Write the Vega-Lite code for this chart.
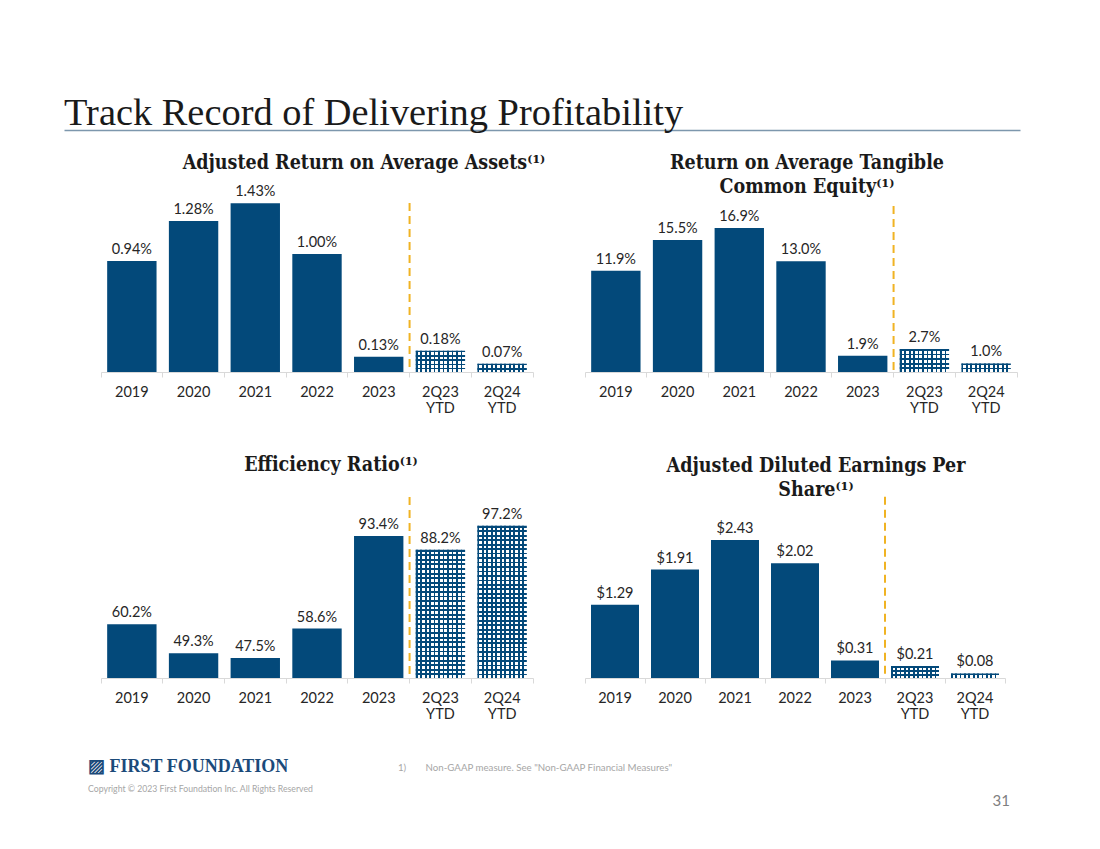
{
  "$schema": "https://vega.github.io/schema/vega-lite/v6.json",
  "autosize": {"type": "none"},
  "padding": {"left": 101, "top": 129, "right": 999, "bottom": 720},
  "background": "white",
  "bounds": "flush",
  "columns": 2,
  "spacing": {"row": 20, "column": 52},
  "config": {
    "view": {"stroke": null},
    "title": {"font": "DejaVu Serif Condensed, DejaVu Serif", "fontSize": 19.5, "fontWeight": "bold", "color": "#1a1a1a", "frame": "group", "offset": 0, "baseline": "alphabetic", "lineHeight": 24, "anchor": "middle"},
    "axis": {"labelFont": "Lato", "labelFontSize": 14.5, "labelColor": "#262626", "labelPadding": 8, "labelLineHeight": 16, "tickColor": "#d9d9d9", "domainColor": "#d9d9d9", "tickSize": 5, "grid": false}
  },
  "concat": [
    {
      "width": 432, "height": 1,
      "title": {"text": "Track Record of Delivering Profitability", "anchor": "start", "dx": -37, "dy": 11, "font": "Liberation Serif", "fontSize": 38.4, "fontWeight": "normal", "color": "#1a1a1a"},
      "data": {"values": [{"v": 0}, {"v": 1}]},
      "mark": {"type": "point", "opacity": 0},
      "encoding": {"x": {"field": "v", "type": "quantitative", "scale": {"domain": [0, 1], "range": [-37, 919]}, "axis": {"title": null, "labels": false, "ticks": false, "domainColor": "#7d97ad", "domainWidth": 1.5}}}
    },
    {
      "width": 432, "height": 1,
      "title": {"text": "31", "anchor": "end", "dx": -7, "dy": 686, "font": "Lato", "fontSize": 15, "fontWeight": "normal", "color": "#7f7f7f"},
      "data": {"values": [{}]},
      "mark": {"type": "point", "opacity": 0}
    },
    {
      "width": 432, "height": 222,
      "title": {"text": "Adjusted Return on Average Assets⁽¹⁾", "dx": 47, "dy": 27},
      "data": {"values": [
        {"cat": "2019", "v": 0.94, "label": "0.94%"},
        {"cat": "2020", "v": 1.28, "label": "1.28%"},
        {"cat": "2021", "v": 1.43, "label": "1.43%"},
        {"cat": "2022", "v": 1.00, "label": "1.00%"},
        {"cat": "2023", "v": 0.13, "label": "0.13%"},
        {"cat": "2Q23 YTD", "v": 0.18, "label": "0.18%"},
        {"cat": "2Q24 YTD", "v": 0.07, "label": "0.07%"}
      ]},
      "encoding": {"x": {"field": "cat", "type": "nominal", "sort": null, "scale": {"paddingInner": 0, "paddingOuter": 0}, "axis": {"title": null, "labelAngle": 0, "labelExpr": "split(datum.label, ' ')", "bandPosition": 1, "tickExtra": true}}},
      "layer": [
        {"transform": [{"filter": "indexof(datum.cat,'YTD')<0"}], "mark": {"type": "bar", "width": {"band": 0.8}, "fill": "#03497a"}, "encoding": {"y": {"field": "v", "type": "quantitative", "scale": {"domain": [0, 1.881], "nice": false}, "axis": null}, "y2": {"datum": 0}}},
        {"transform": [{"filter": "indexof(datum.cat,'YTD')>=0"}], "mark": {"type": "bar", "width": {"band": 0.8}, "fill": {"gradient": "linear", "x1": 0, "y1": 0, "x2": 1, "y2": 0, "stops": [{"offset": 0, "color": "#03497a"}, {"offset": 0.0364, "color": "#03497a"}, {"offset": 0.0364, "color": "#ffffff"}, {"offset": 0.0909, "color": "#ffffff"}, {"offset": 0.0909, "color": "#03497a"}, {"offset": 0.1273, "color": "#03497a"}, {"offset": 0.1273, "color": "#ffffff"}, {"offset": 0.1818, "color": "#ffffff"}, {"offset": 0.1818, "color": "#03497a"}, {"offset": 0.2182, "color": "#03497a"}, {"offset": 0.2182, "color": "#ffffff"}, {"offset": 0.2727, "color": "#ffffff"}, {"offset": 0.2727, "color": "#03497a"}, {"offset": 0.3091, "color": "#03497a"}, {"offset": 0.3091, "color": "#ffffff"}, {"offset": 0.3636, "color": "#ffffff"}, {"offset": 0.3636, "color": "#03497a"}, {"offset": 0.4, "color": "#03497a"}, {"offset": 0.4, "color": "#ffffff"}, {"offset": 0.4545, "color": "#ffffff"}, {"offset": 0.4545, "color": "#03497a"}, {"offset": 0.4909, "color": "#03497a"}, {"offset": 0.4909, "color": "#ffffff"}, {"offset": 0.5455, "color": "#ffffff"}, {"offset": 0.5455, "color": "#03497a"}, {"offset": 0.5818, "color": "#03497a"}, {"offset": 0.5818, "color": "#ffffff"}, {"offset": 0.6364, "color": "#ffffff"}, {"offset": 0.6364, "color": "#03497a"}, {"offset": 0.6727, "color": "#03497a"}, {"offset": 0.6727, "color": "#ffffff"}, {"offset": 0.7273, "color": "#ffffff"}, {"offset": 0.7273, "color": "#03497a"}, {"offset": 0.7636, "color": "#03497a"}, {"offset": 0.7636, "color": "#ffffff"}, {"offset": 0.8182, "color": "#ffffff"}, {"offset": 0.8182, "color": "#03497a"}, {"offset": 0.8545, "color": "#03497a"}, {"offset": 0.8545, "color": "#ffffff"}, {"offset": 0.9091, "color": "#ffffff"}, {"offset": 0.9091, "color": "#03497a"}, {"offset": 0.9455, "color": "#03497a"}, {"offset": 0.9455, "color": "#ffffff"}, {"offset": 1, "color": "#ffffff"}]}}, "encoding": {"y": {"field": "v", "type": "quantitative", "scale": {"domain": [0, 1.881], "nice": false}, "axis": null}, "y2": {"datum": 0}}},
        {"transform": [{"filter": "indexof(datum.cat,'YTD')>=0"}], "mark": {"type": "bar", "width": {"band": 0.8}}, "encoding": {"y": {"field": "v", "type": "quantitative", "scale": {"domain": [0, 1.881], "nice": false}, "axis": null}, "y2": {"datum": 0},
          "fill": {"condition": {"test": "datum.cat==='2Q23 YTD'", "value": {"gradient": "linear", "x1": 0, "y1": 0, "x2": 0, "y2": 1, "stops": [{"offset": 0, "color": "#03497a"}, {"offset": 0.08, "color": "#03497a"}, {"offset": 0.08, "color": "rgba(3,73,122,0)"}, {"offset": 0.2, "color": "rgba(3,73,122,0)"}, {"offset": 0.2, "color": "#03497a"}, {"offset": 0.28, "color": "#03497a"}, {"offset": 0.28, "color": "rgba(3,73,122,0)"}, {"offset": 0.4, "color": "rgba(3,73,122,0)"}, {"offset": 0.4, "color": "#03497a"}, {"offset": 0.48, "color": "#03497a"}, {"offset": 0.48, "color": "rgba(3,73,122,0)"}, {"offset": 0.6, "color": "rgba(3,73,122,0)"}, {"offset": 0.6, "color": "#03497a"}, {"offset": 0.68, "color": "#03497a"}, {"offset": 0.68, "color": "rgba(3,73,122,0)"}, {"offset": 0.8, "color": "rgba(3,73,122,0)"}, {"offset": 0.8, "color": "#03497a"}, {"offset": 0.88, "color": "#03497a"}, {"offset": 0.88, "color": "rgba(3,73,122,0)"}, {"offset": 1, "color": "rgba(3,73,122,0)"}]}},
            "value": {"gradient": "linear", "x1": 0, "y1": 0, "x2": 0, "y2": 1, "stops": [{"offset": 0, "color": "#03497a"}, {"offset": 0.2, "color": "#03497a"}, {"offset": 0.2, "color": "rgba(3,73,122,0)"}, {"offset": 0.5, "color": "rgba(3,73,122,0)"}, {"offset": 0.5, "color": "#03497a"}, {"offset": 0.7, "color": "#03497a"}, {"offset": 0.7, "color": "rgba(3,73,122,0)"}, {"offset": 1, "color": "rgba(3,73,122,0)"}]}}}},
        {"mark": {"type": "text", "baseline": "alphabetic", "dy": -7, "font": "Lato", "fontSize": 14.5, "color": "#262626"}, "encoding": {"y": {"field": "v", "type": "quantitative", "scale": {"domain": [0, 1.881], "nice": false}, "axis": null}, "text": {"field": "label"}}},
        {"transform": [{"filter": "datum.cat==='2Q23 YTD'"}], "mark": {"type": "rule", "color": "#f0b323", "strokeDash": [8, 5], "strokeWidth": 2}, "encoding": {"x": {"field": "cat", "type": "nominal", "sort": null, "bandPosition": 0}, "y": {"datum": 1.432, "type": "quantitative", "scale": {"domain": [0, 1.881], "nice": false}}, "y2": {"datum": 0}}}
      ]
    },
    {
      "width": 432, "height": 222,
      "title": {"text": ["Return on Average Tangible", "Common Equity⁽¹⁾"], "dx": 6, "dy": 51},
      "data": {"values": [
        {"cat": "2019", "v": 11.9, "label": "11.9%"},
        {"cat": "2020", "v": 15.5, "label": "15.5%"},
        {"cat": "2021", "v": 16.9, "label": "16.9%"},
        {"cat": "2022", "v": 13.0, "label": "13.0%"},
        {"cat": "2023", "v": 1.9, "label": "1.9%"},
        {"cat": "2Q23 YTD", "v": 2.7, "label": "2.7%"},
        {"cat": "2Q24 YTD", "v": 1.0, "label": "1.0%"}
      ]},
      "encoding": {"x": {"field": "cat", "type": "nominal", "sort": null, "scale": {"paddingInner": 0, "paddingOuter": 0}, "axis": {"title": null, "labelAngle": 0, "labelExpr": "split(datum.label, ' ')", "bandPosition": 1, "tickExtra": true}}},
      "layer": [
        {"transform": [{"filter": "indexof(datum.cat,'YTD')<0"}], "mark": {"type": "bar", "width": {"band": 0.8}, "fill": "#03497a"}, "encoding": {"y": {"field": "v", "type": "quantitative", "scale": {"domain": [0, 26.06], "nice": false}, "axis": null}, "y2": {"datum": 0}}},
        {"transform": [{"filter": "indexof(datum.cat,'YTD')>=0"}], "mark": {"type": "bar", "width": {"band": 0.8}, "fill": {"gradient": "linear", "x1": 0, "y1": 0, "x2": 1, "y2": 0, "stops": [{"offset": 0, "color": "#03497a"}, {"offset": 0.0364, "color": "#03497a"}, {"offset": 0.0364, "color": "#ffffff"}, {"offset": 0.0909, "color": "#ffffff"}, {"offset": 0.0909, "color": "#03497a"}, {"offset": 0.1273, "color": "#03497a"}, {"offset": 0.1273, "color": "#ffffff"}, {"offset": 0.1818, "color": "#ffffff"}, {"offset": 0.1818, "color": "#03497a"}, {"offset": 0.2182, "color": "#03497a"}, {"offset": 0.2182, "color": "#ffffff"}, {"offset": 0.2727, "color": "#ffffff"}, {"offset": 0.2727, "color": "#03497a"}, {"offset": 0.3091, "color": "#03497a"}, {"offset": 0.3091, "color": "#ffffff"}, {"offset": 0.3636, "color": "#ffffff"}, {"offset": 0.3636, "color": "#03497a"}, {"offset": 0.4, "color": "#03497a"}, {"offset": 0.4, "color": "#ffffff"}, {"offset": 0.4545, "color": "#ffffff"}, {"offset": 0.4545, "color": "#03497a"}, {"offset": 0.4909, "color": "#03497a"}, {"offset": 0.4909, "color": "#ffffff"}, {"offset": 0.5455, "color": "#ffffff"}, {"offset": 0.5455, "color": "#03497a"}, {"offset": 0.5818, "color": "#03497a"}, {"offset": 0.5818, "color": "#ffffff"}, {"offset": 0.6364, "color": "#ffffff"}, {"offset": 0.6364, "color": "#03497a"}, {"offset": 0.6727, "color": "#03497a"}, {"offset": 0.6727, "color": "#ffffff"}, {"offset": 0.7273, "color": "#ffffff"}, {"offset": 0.7273, "color": "#03497a"}, {"offset": 0.7636, "color": "#03497a"}, {"offset": 0.7636, "color": "#ffffff"}, {"offset": 0.8182, "color": "#ffffff"}, {"offset": 0.8182, "color": "#03497a"}, {"offset": 0.8545, "color": "#03497a"}, {"offset": 0.8545, "color": "#ffffff"}, {"offset": 0.9091, "color": "#ffffff"}, {"offset": 0.9091, "color": "#03497a"}, {"offset": 0.9455, "color": "#03497a"}, {"offset": 0.9455, "color": "#ffffff"}, {"offset": 1, "color": "#ffffff"}]}}, "encoding": {"y": {"field": "v", "type": "quantitative", "scale": {"domain": [0, 26.06], "nice": false}, "axis": null}, "y2": {"datum": 0}}},
        {"transform": [{"filter": "indexof(datum.cat,'YTD')>=0"}], "mark": {"type": "bar", "width": {"band": 0.8}}, "encoding": {"y": {"field": "v", "type": "quantitative", "scale": {"domain": [0, 26.06], "nice": false}, "axis": null}, "y2": {"datum": 0},
          "fill": {"condition": {"test": "datum.cat==='2Q23 YTD'", "value": {"gradient": "linear", "x1": 0, "y1": 0, "x2": 0, "y2": 1, "stops": [{"offset": 0, "color": "#03497a"}, {"offset": 0.08, "color": "#03497a"}, {"offset": 0.08, "color": "rgba(3,73,122,0)"}, {"offset": 0.2, "color": "rgba(3,73,122,0)"}, {"offset": 0.2, "color": "#03497a"}, {"offset": 0.28, "color": "#03497a"}, {"offset": 0.28, "color": "rgba(3,73,122,0)"}, {"offset": 0.4, "color": "rgba(3,73,122,0)"}, {"offset": 0.4, "color": "#03497a"}, {"offset": 0.48, "color": "#03497a"}, {"offset": 0.48, "color": "rgba(3,73,122,0)"}, {"offset": 0.6, "color": "rgba(3,73,122,0)"}, {"offset": 0.6, "color": "#03497a"}, {"offset": 0.68, "color": "#03497a"}, {"offset": 0.68, "color": "rgba(3,73,122,0)"}, {"offset": 0.8, "color": "rgba(3,73,122,0)"}, {"offset": 0.8, "color": "#03497a"}, {"offset": 0.88, "color": "#03497a"}, {"offset": 0.88, "color": "rgba(3,73,122,0)"}, {"offset": 1, "color": "rgba(3,73,122,0)"}]}},
            "value": {"gradient": "linear", "x1": 0, "y1": 0, "x2": 0, "y2": 1, "stops": [{"offset": 0, "color": "#03497a"}, {"offset": 0.2, "color": "#03497a"}, {"offset": 0.2, "color": "rgba(3,73,122,0)"}, {"offset": 0.5, "color": "rgba(3,73,122,0)"}, {"offset": 0.5, "color": "#03497a"}, {"offset": 0.7, "color": "#03497a"}, {"offset": 0.7, "color": "rgba(3,73,122,0)"}, {"offset": 1, "color": "rgba(3,73,122,0)"}]}}}},
        {"mark": {"type": "text", "baseline": "alphabetic", "dy": -7, "font": "Lato", "fontSize": 14.5, "color": "#262626"}, "encoding": {"y": {"field": "v", "type": "quantitative", "scale": {"domain": [0, 26.06], "nice": false}, "axis": null}, "text": {"field": "label"}}},
        {"transform": [{"filter": "datum.cat==='2Q23 YTD'"}], "mark": {"type": "rule", "color": "#f0b323", "strokeDash": [8, 5], "strokeWidth": 2}, "encoding": {"x": {"field": "cat", "type": "nominal", "sort": null, "bandPosition": 0}, "y": {"datum": 19.5, "type": "quantitative", "scale": {"domain": [0, 26.06], "nice": false}}, "y2": {"datum": 0}}}
      ]
    },
    {
      "width": 432, "height": 286,
      "title": {"text": "Efficiency Ratio⁽¹⁾", "dx": 14, "dy": 87},
      "data": {"values": [
        {"cat": "2019", "v": 60.2, "label": "60.2%"},
        {"cat": "2020", "v": 49.3, "label": "49.3%"},
        {"cat": "2021", "v": 47.5, "label": "47.5%"},
        {"cat": "2022", "v": 58.6, "label": "58.6%"},
        {"cat": "2023", "v": 93.4, "label": "93.4%"},
        {"cat": "2Q23 YTD", "v": 88.2, "label": "88.2%"},
        {"cat": "2Q24 YTD", "v": 97.2, "label": "97.2%"}
      ]},
      "encoding": {"x": {"field": "cat", "type": "nominal", "sort": null, "scale": {"paddingInner": 0, "paddingOuter": 0}, "axis": {"title": null, "labelAngle": 0, "labelExpr": "split(datum.label, ' ')", "bandPosition": 1, "tickExtra": true}}},
      "layer": [
        {"transform": [{"filter": "indexof(datum.cat,'YTD')<0"}], "mark": {"type": "bar", "width": {"band": 0.8}, "fill": "#03497a"}, "encoding": {"y": {"field": "v", "type": "quantitative", "scale": {"domain": [40, 147.5], "nice": false, "zero": false}, "axis": null}, "y2": {"datum": 40}}},
        {"transform": [{"filter": "indexof(datum.cat,'YTD')>=0"}], "mark": {"type": "bar", "width": {"band": 0.8}, "fill": {"gradient": "linear", "x1": 0, "y1": 0, "x2": 1, "y2": 0, "stops": [{"offset": 0, "color": "#03497a"}, {"offset": 0.0364, "color": "#03497a"}, {"offset": 0.0364, "color": "#ffffff"}, {"offset": 0.0909, "color": "#ffffff"}, {"offset": 0.0909, "color": "#03497a"}, {"offset": 0.1273, "color": "#03497a"}, {"offset": 0.1273, "color": "#ffffff"}, {"offset": 0.1818, "color": "#ffffff"}, {"offset": 0.1818, "color": "#03497a"}, {"offset": 0.2182, "color": "#03497a"}, {"offset": 0.2182, "color": "#ffffff"}, {"offset": 0.2727, "color": "#ffffff"}, {"offset": 0.2727, "color": "#03497a"}, {"offset": 0.3091, "color": "#03497a"}, {"offset": 0.3091, "color": "#ffffff"}, {"offset": 0.3636, "color": "#ffffff"}, {"offset": 0.3636, "color": "#03497a"}, {"offset": 0.4, "color": "#03497a"}, {"offset": 0.4, "color": "#ffffff"}, {"offset": 0.4545, "color": "#ffffff"}, {"offset": 0.4545, "color": "#03497a"}, {"offset": 0.4909, "color": "#03497a"}, {"offset": 0.4909, "color": "#ffffff"}, {"offset": 0.5455, "color": "#ffffff"}, {"offset": 0.5455, "color": "#03497a"}, {"offset": 0.5818, "color": "#03497a"}, {"offset": 0.5818, "color": "#ffffff"}, {"offset": 0.6364, "color": "#ffffff"}, {"offset": 0.6364, "color": "#03497a"}, {"offset": 0.6727, "color": "#03497a"}, {"offset": 0.6727, "color": "#ffffff"}, {"offset": 0.7273, "color": "#ffffff"}, {"offset": 0.7273, "color": "#03497a"}, {"offset": 0.7636, "color": "#03497a"}, {"offset": 0.7636, "color": "#ffffff"}, {"offset": 0.8182, "color": "#ffffff"}, {"offset": 0.8182, "color": "#03497a"}, {"offset": 0.8545, "color": "#03497a"}, {"offset": 0.8545, "color": "#ffffff"}, {"offset": 0.9091, "color": "#ffffff"}, {"offset": 0.9091, "color": "#03497a"}, {"offset": 0.9455, "color": "#03497a"}, {"offset": 0.9455, "color": "#ffffff"}, {"offset": 1, "color": "#ffffff"}]}}, "encoding": {"y": {"field": "v", "type": "quantitative", "scale": {"domain": [40, 147.5], "nice": false, "zero": false}, "axis": null}, "y2": {"datum": 40}}},
        {"transform": [{"filter": "indexof(datum.cat,'YTD')>=0"}], "mark": {"type": "bar", "width": {"band": 0.8}}, "encoding": {"y": {"field": "v", "type": "quantitative", "scale": {"domain": [40, 147.5], "nice": false, "zero": false}, "axis": null}, "y2": {"datum": 40},
          "fill": {"condition": {"test": "datum.cat==='2Q23 YTD'", "value": {"gradient": "linear", "x1": 0, "y1": 0, "x2": 0, "y2": 1, "stops": [
            {"offset": 0, "color": "#03497a"}, {"offset": 0.0143, "color": "#03497a"}, {"offset": 0.0143, "color": "rgba(3,73,122,0)"}, {"offset": 0.0357, "color": "rgba(3,73,122,0)"},
            {"offset": 0.0357, "color": "#03497a"}, {"offset": 0.05, "color": "#03497a"}, {"offset": 0.05, "color": "rgba(3,73,122,0)"}, {"offset": 0.0714, "color": "rgba(3,73,122,0)"},
            {"offset": 0.0714, "color": "#03497a"}, {"offset": 0.0857, "color": "#03497a"}, {"offset": 0.0857, "color": "rgba(3,73,122,0)"}, {"offset": 0.1071, "color": "rgba(3,73,122,0)"},
            {"offset": 0.1071, "color": "#03497a"}, {"offset": 0.1214, "color": "#03497a"}, {"offset": 0.1214, "color": "rgba(3,73,122,0)"}, {"offset": 0.1429, "color": "rgba(3,73,122,0)"},
            {"offset": 0.1429, "color": "#03497a"}, {"offset": 0.1571, "color": "#03497a"}, {"offset": 0.1571, "color": "rgba(3,73,122,0)"}, {"offset": 0.1786, "color": "rgba(3,73,122,0)"},
            {"offset": 0.1786, "color": "#03497a"}, {"offset": 0.1929, "color": "#03497a"}, {"offset": 0.1929, "color": "rgba(3,73,122,0)"}, {"offset": 0.2143, "color": "rgba(3,73,122,0)"},
            {"offset": 0.2143, "color": "#03497a"}, {"offset": 0.2286, "color": "#03497a"}, {"offset": 0.2286, "color": "rgba(3,73,122,0)"}, {"offset": 0.25, "color": "rgba(3,73,122,0)"},
            {"offset": 0.25, "color": "#03497a"}, {"offset": 0.2643, "color": "#03497a"}, {"offset": 0.2643, "color": "rgba(3,73,122,0)"}, {"offset": 0.2857, "color": "rgba(3,73,122,0)"},
            {"offset": 0.2857, "color": "#03497a"}, {"offset": 0.3, "color": "#03497a"}, {"offset": 0.3, "color": "rgba(3,73,122,0)"}, {"offset": 0.3214, "color": "rgba(3,73,122,0)"},
            {"offset": 0.3214, "color": "#03497a"}, {"offset": 0.3357, "color": "#03497a"}, {"offset": 0.3357, "color": "rgba(3,73,122,0)"}, {"offset": 0.3571, "color": "rgba(3,73,122,0)"},
            {"offset": 0.3571, "color": "#03497a"}, {"offset": 0.3714, "color": "#03497a"}, {"offset": 0.3714, "color": "rgba(3,73,122,0)"}, {"offset": 0.3929, "color": "rgba(3,73,122,0)"},
            {"offset": 0.3929, "color": "#03497a"}, {"offset": 0.4071, "color": "#03497a"}, {"offset": 0.4071, "color": "rgba(3,73,122,0)"}, {"offset": 0.4286, "color": "rgba(3,73,122,0)"},
            {"offset": 0.4286, "color": "#03497a"}, {"offset": 0.4429, "color": "#03497a"}, {"offset": 0.4429, "color": "rgba(3,73,122,0)"}, {"offset": 0.4643, "color": "rgba(3,73,122,0)"},
            {"offset": 0.4643, "color": "#03497a"}, {"offset": 0.4786, "color": "#03497a"}, {"offset": 0.4786, "color": "rgba(3,73,122,0)"}, {"offset": 0.5, "color": "rgba(3,73,122,0)"},
            {"offset": 0.5, "color": "#03497a"}, {"offset": 0.5143, "color": "#03497a"}, {"offset": 0.5143, "color": "rgba(3,73,122,0)"}, {"offset": 0.5357, "color": "rgba(3,73,122,0)"},
            {"offset": 0.5357, "color": "#03497a"}, {"offset": 0.55, "color": "#03497a"}, {"offset": 0.55, "color": "rgba(3,73,122,0)"}, {"offset": 0.5714, "color": "rgba(3,73,122,0)"},
            {"offset": 0.5714, "color": "#03497a"}, {"offset": 0.5857, "color": "#03497a"}, {"offset": 0.5857, "color": "rgba(3,73,122,0)"}, {"offset": 0.6071, "color": "rgba(3,73,122,0)"},
            {"offset": 0.6071, "color": "#03497a"}, {"offset": 0.6214, "color": "#03497a"}, {"offset": 0.6214, "color": "rgba(3,73,122,0)"}, {"offset": 0.6429, "color": "rgba(3,73,122,0)"},
            {"offset": 0.6429, "color": "#03497a"}, {"offset": 0.6571, "color": "#03497a"}, {"offset": 0.6571, "color": "rgba(3,73,122,0)"}, {"offset": 0.6786, "color": "rgba(3,73,122,0)"},
            {"offset": 0.6786, "color": "#03497a"}, {"offset": 0.6929, "color": "#03497a"}, {"offset": 0.6929, "color": "rgba(3,73,122,0)"}, {"offset": 0.7143, "color": "rgba(3,73,122,0)"},
            {"offset": 0.7143, "color": "#03497a"}, {"offset": 0.7286, "color": "#03497a"}, {"offset": 0.7286, "color": "rgba(3,73,122,0)"}, {"offset": 0.75, "color": "rgba(3,73,122,0)"},
            {"offset": 0.75, "color": "#03497a"}, {"offset": 0.7643, "color": "#03497a"}, {"offset": 0.7643, "color": "rgba(3,73,122,0)"}, {"offset": 0.7857, "color": "rgba(3,73,122,0)"},
            {"offset": 0.7857, "color": "#03497a"}, {"offset": 0.8, "color": "#03497a"}, {"offset": 0.8, "color": "rgba(3,73,122,0)"}, {"offset": 0.8214, "color": "rgba(3,73,122,0)"},
            {"offset": 0.8214, "color": "#03497a"}, {"offset": 0.8357, "color": "#03497a"}, {"offset": 0.8357, "color": "rgba(3,73,122,0)"}, {"offset": 0.8571, "color": "rgba(3,73,122,0)"},
            {"offset": 0.8571, "color": "#03497a"}, {"offset": 0.8714, "color": "#03497a"}, {"offset": 0.8714, "color": "rgba(3,73,122,0)"}, {"offset": 0.8929, "color": "rgba(3,73,122,0)"},
            {"offset": 0.8929, "color": "#03497a"}, {"offset": 0.9071, "color": "#03497a"}, {"offset": 0.9071, "color": "rgba(3,73,122,0)"}, {"offset": 0.9286, "color": "rgba(3,73,122,0)"},
            {"offset": 0.9286, "color": "#03497a"}, {"offset": 0.9429, "color": "#03497a"}, {"offset": 0.9429, "color": "rgba(3,73,122,0)"}, {"offset": 0.9643, "color": "rgba(3,73,122,0)"},
            {"offset": 0.9643, "color": "#03497a"}, {"offset": 0.9786, "color": "#03497a"}, {"offset": 0.9786, "color": "rgba(3,73,122,0)"}, {"offset": 1, "color": "rgba(3,73,122,0)"}]}},
            "value": {"gradient": "linear", "x1": 0, "y1": 0, "x2": 0, "y2": 1, "stops": [
            {"offset": 0, "color": "#03497a"}, {"offset": 0.0118, "color": "#03497a"}, {"offset": 0.0118, "color": "rgba(3,73,122,0)"}, {"offset": 0.0294, "color": "rgba(3,73,122,0)"},
            {"offset": 0.0294, "color": "#03497a"}, {"offset": 0.0412, "color": "#03497a"}, {"offset": 0.0412, "color": "rgba(3,73,122,0)"}, {"offset": 0.0588, "color": "rgba(3,73,122,0)"},
            {"offset": 0.0588, "color": "#03497a"}, {"offset": 0.0706, "color": "#03497a"}, {"offset": 0.0706, "color": "rgba(3,73,122,0)"}, {"offset": 0.0882, "color": "rgba(3,73,122,0)"},
            {"offset": 0.0882, "color": "#03497a"}, {"offset": 0.1, "color": "#03497a"}, {"offset": 0.1, "color": "rgba(3,73,122,0)"}, {"offset": 0.1176, "color": "rgba(3,73,122,0)"},
            {"offset": 0.1176, "color": "#03497a"}, {"offset": 0.1294, "color": "#03497a"}, {"offset": 0.1294, "color": "rgba(3,73,122,0)"}, {"offset": 0.1471, "color": "rgba(3,73,122,0)"},
            {"offset": 0.1471, "color": "#03497a"}, {"offset": 0.1588, "color": "#03497a"}, {"offset": 0.1588, "color": "rgba(3,73,122,0)"}, {"offset": 0.1765, "color": "rgba(3,73,122,0)"},
            {"offset": 0.1765, "color": "#03497a"}, {"offset": 0.1882, "color": "#03497a"}, {"offset": 0.1882, "color": "rgba(3,73,122,0)"}, {"offset": 0.2059, "color": "rgba(3,73,122,0)"},
            {"offset": 0.2059, "color": "#03497a"}, {"offset": 0.2176, "color": "#03497a"}, {"offset": 0.2176, "color": "rgba(3,73,122,0)"}, {"offset": 0.2353, "color": "rgba(3,73,122,0)"},
            {"offset": 0.2353, "color": "#03497a"}, {"offset": 0.2471, "color": "#03497a"}, {"offset": 0.2471, "color": "rgba(3,73,122,0)"}, {"offset": 0.2647, "color": "rgba(3,73,122,0)"},
            {"offset": 0.2647, "color": "#03497a"}, {"offset": 0.2765, "color": "#03497a"}, {"offset": 0.2765, "color": "rgba(3,73,122,0)"}, {"offset": 0.2941, "color": "rgba(3,73,122,0)"},
            {"offset": 0.2941, "color": "#03497a"}, {"offset": 0.3059, "color": "#03497a"}, {"offset": 0.3059, "color": "rgba(3,73,122,0)"}, {"offset": 0.3235, "color": "rgba(3,73,122,0)"},
            {"offset": 0.3235, "color": "#03497a"}, {"offset": 0.3353, "color": "#03497a"}, {"offset": 0.3353, "color": "rgba(3,73,122,0)"}, {"offset": 0.3529, "color": "rgba(3,73,122,0)"},
            {"offset": 0.3529, "color": "#03497a"}, {"offset": 0.3647, "color": "#03497a"}, {"offset": 0.3647, "color": "rgba(3,73,122,0)"}, {"offset": 0.3824, "color": "rgba(3,73,122,0)"},
            {"offset": 0.3824, "color": "#03497a"}, {"offset": 0.3941, "color": "#03497a"}, {"offset": 0.3941, "color": "rgba(3,73,122,0)"}, {"offset": 0.4118, "color": "rgba(3,73,122,0)"},
            {"offset": 0.4118, "color": "#03497a"}, {"offset": 0.4235, "color": "#03497a"}, {"offset": 0.4235, "color": "rgba(3,73,122,0)"}, {"offset": 0.4412, "color": "rgba(3,73,122,0)"},
            {"offset": 0.4412, "color": "#03497a"}, {"offset": 0.4529, "color": "#03497a"}, {"offset": 0.4529, "color": "rgba(3,73,122,0)"}, {"offset": 0.4706, "color": "rgba(3,73,122,0)"},
            {"offset": 0.4706, "color": "#03497a"}, {"offset": 0.4824, "color": "#03497a"}, {"offset": 0.4824, "color": "rgba(3,73,122,0)"}, {"offset": 0.5, "color": "rgba(3,73,122,0)"},
            {"offset": 0.5, "color": "#03497a"}, {"offset": 0.5118, "color": "#03497a"}, {"offset": 0.5118, "color": "rgba(3,73,122,0)"}, {"offset": 0.5294, "color": "rgba(3,73,122,0)"},
            {"offset": 0.5294, "color": "#03497a"}, {"offset": 0.5412, "color": "#03497a"}, {"offset": 0.5412, "color": "rgba(3,73,122,0)"}, {"offset": 0.5588, "color": "rgba(3,73,122,0)"},
            {"offset": 0.5588, "color": "#03497a"}, {"offset": 0.5706, "color": "#03497a"}, {"offset": 0.5706, "color": "rgba(3,73,122,0)"}, {"offset": 0.5882, "color": "rgba(3,73,122,0)"},
            {"offset": 0.5882, "color": "#03497a"}, {"offset": 0.6, "color": "#03497a"}, {"offset": 0.6, "color": "rgba(3,73,122,0)"}, {"offset": 0.6176, "color": "rgba(3,73,122,0)"},
            {"offset": 0.6176, "color": "#03497a"}, {"offset": 0.6294, "color": "#03497a"}, {"offset": 0.6294, "color": "rgba(3,73,122,0)"}, {"offset": 0.6471, "color": "rgba(3,73,122,0)"},
            {"offset": 0.6471, "color": "#03497a"}, {"offset": 0.6588, "color": "#03497a"}, {"offset": 0.6588, "color": "rgba(3,73,122,0)"}, {"offset": 0.6765, "color": "rgba(3,73,122,0)"},
            {"offset": 0.6765, "color": "#03497a"}, {"offset": 0.6882, "color": "#03497a"}, {"offset": 0.6882, "color": "rgba(3,73,122,0)"}, {"offset": 0.7059, "color": "rgba(3,73,122,0)"},
            {"offset": 0.7059, "color": "#03497a"}, {"offset": 0.7176, "color": "#03497a"}, {"offset": 0.7176, "color": "rgba(3,73,122,0)"}, {"offset": 0.7353, "color": "rgba(3,73,122,0)"},
            {"offset": 0.7353, "color": "#03497a"}, {"offset": 0.7471, "color": "#03497a"}, {"offset": 0.7471, "color": "rgba(3,73,122,0)"}, {"offset": 0.7647, "color": "rgba(3,73,122,0)"},
            {"offset": 0.7647, "color": "#03497a"}, {"offset": 0.7765, "color": "#03497a"}, {"offset": 0.7765, "color": "rgba(3,73,122,0)"}, {"offset": 0.7941, "color": "rgba(3,73,122,0)"},
            {"offset": 0.7941, "color": "#03497a"}, {"offset": 0.8059, "color": "#03497a"}, {"offset": 0.8059, "color": "rgba(3,73,122,0)"}, {"offset": 0.8235, "color": "rgba(3,73,122,0)"},
            {"offset": 0.8235, "color": "#03497a"}, {"offset": 0.8353, "color": "#03497a"}, {"offset": 0.8353, "color": "rgba(3,73,122,0)"}, {"offset": 0.8529, "color": "rgba(3,73,122,0)"},
            {"offset": 0.8529, "color": "#03497a"}, {"offset": 0.8647, "color": "#03497a"}, {"offset": 0.8647, "color": "rgba(3,73,122,0)"}, {"offset": 0.8824, "color": "rgba(3,73,122,0)"},
            {"offset": 0.8824, "color": "#03497a"}, {"offset": 0.8941, "color": "#03497a"}, {"offset": 0.8941, "color": "rgba(3,73,122,0)"}, {"offset": 0.9118, "color": "rgba(3,73,122,0)"},
            {"offset": 0.9118, "color": "#03497a"}, {"offset": 0.9235, "color": "#03497a"}, {"offset": 0.9235, "color": "rgba(3,73,122,0)"}, {"offset": 0.9412, "color": "rgba(3,73,122,0)"},
            {"offset": 0.9412, "color": "#03497a"}, {"offset": 0.9529, "color": "#03497a"}, {"offset": 0.9529, "color": "rgba(3,73,122,0)"}, {"offset": 0.9706, "color": "rgba(3,73,122,0)"},
            {"offset": 0.9706, "color": "#03497a"}, {"offset": 0.9824, "color": "#03497a"}, {"offset": 0.9824, "color": "rgba(3,73,122,0)"}, {"offset": 1, "color": "rgba(3,73,122,0)"}]}}}},
        {"mark": {"type": "text", "baseline": "alphabetic", "dy": -7, "font": "Lato", "fontSize": 14.5, "color": "#262626"}, "encoding": {"y": {"field": "v", "type": "quantitative", "scale": {"domain": [40, 147.5], "nice": false, "zero": false}, "axis": null}, "text": {"field": "label"}}},
        {"transform": [{"filter": "datum.cat==='2Q23 YTD'"}], "mark": {"type": "rule", "color": "#f0b323", "strokeDash": [8, 5], "strokeWidth": 2}, "encoding": {"x": {"field": "cat", "type": "nominal", "sort": null, "bandPosition": 0}, "y": {"datum": 108, "type": "quantitative", "scale": {"domain": [40, 147.5], "nice": false, "zero": false}}, "y2": {"datum": 40}}}
      ]
    },
    {
      "width": 420, "height": 286,
      "title": {"text": ["Adjusted Diluted Earnings Per", "Share⁽¹⁾"], "dx": 21, "dy": 112},
      "data": {"values": [
        {"cat": "2019", "v": 1.29, "label": "$1.29"},
        {"cat": "2020", "v": 1.91, "label": "$1.91"},
        {"cat": "2021", "v": 2.43, "label": "$2.43"},
        {"cat": "2022", "v": 2.02, "label": "$2.02"},
        {"cat": "2023", "v": 0.31, "label": "$0.31"},
        {"cat": "2Q23 YTD", "v": 0.21, "label": "$0.21"},
        {"cat": "2Q24 YTD", "v": 0.08, "label": "$0.08"}
      ]},
      "encoding": {"x": {"field": "cat", "type": "nominal", "sort": null, "scale": {"paddingInner": 0, "paddingOuter": 0}, "axis": {"title": null, "labelAngle": 0, "labelExpr": "split(datum.label, ' ')", "bandPosition": 1, "tickExtra": true}}},
      "layer": [
        {"transform": [{"filter": "indexof(datum.cat,'YTD')<0"}], "mark": {"type": "bar", "width": {"band": 0.8}, "fill": "#03497a"}, "encoding": {"y": {"field": "v", "type": "quantitative", "scale": {"domain": [0, 5.035], "nice": false}, "axis": null}, "y2": {"datum": 0}}},
        {"transform": [{"filter": "indexof(datum.cat,'YTD')>=0"}], "mark": {"type": "bar", "width": {"band": 0.8}, "fill": {"gradient": "linear", "x1": 0, "y1": 0, "x2": 1, "y2": 0, "stops": [{"offset": 0, "color": "#03497a"}, {"offset": 0.0364, "color": "#03497a"}, {"offset": 0.0364, "color": "#ffffff"}, {"offset": 0.0909, "color": "#ffffff"}, {"offset": 0.0909, "color": "#03497a"}, {"offset": 0.1273, "color": "#03497a"}, {"offset": 0.1273, "color": "#ffffff"}, {"offset": 0.1818, "color": "#ffffff"}, {"offset": 0.1818, "color": "#03497a"}, {"offset": 0.2182, "color": "#03497a"}, {"offset": 0.2182, "color": "#ffffff"}, {"offset": 0.2727, "color": "#ffffff"}, {"offset": 0.2727, "color": "#03497a"}, {"offset": 0.3091, "color": "#03497a"}, {"offset": 0.3091, "color": "#ffffff"}, {"offset": 0.3636, "color": "#ffffff"}, {"offset": 0.3636, "color": "#03497a"}, {"offset": 0.4, "color": "#03497a"}, {"offset": 0.4, "color": "#ffffff"}, {"offset": 0.4545, "color": "#ffffff"}, {"offset": 0.4545, "color": "#03497a"}, {"offset": 0.4909, "color": "#03497a"}, {"offset": 0.4909, "color": "#ffffff"}, {"offset": 0.5455, "color": "#ffffff"}, {"offset": 0.5455, "color": "#03497a"}, {"offset": 0.5818, "color": "#03497a"}, {"offset": 0.5818, "color": "#ffffff"}, {"offset": 0.6364, "color": "#ffffff"}, {"offset": 0.6364, "color": "#03497a"}, {"offset": 0.6727, "color": "#03497a"}, {"offset": 0.6727, "color": "#ffffff"}, {"offset": 0.7273, "color": "#ffffff"}, {"offset": 0.7273, "color": "#03497a"}, {"offset": 0.7636, "color": "#03497a"}, {"offset": 0.7636, "color": "#ffffff"}, {"offset": 0.8182, "color": "#ffffff"}, {"offset": 0.8182, "color": "#03497a"}, {"offset": 0.8545, "color": "#03497a"}, {"offset": 0.8545, "color": "#ffffff"}, {"offset": 0.9091, "color": "#ffffff"}, {"offset": 0.9091, "color": "#03497a"}, {"offset": 0.9455, "color": "#03497a"}, {"offset": 0.9455, "color": "#ffffff"}, {"offset": 1, "color": "#ffffff"}]}}, "encoding": {"y": {"field": "v", "type": "quantitative", "scale": {"domain": [0, 5.035], "nice": false}, "axis": null}, "y2": {"datum": 0}}},
        {"transform": [{"filter": "indexof(datum.cat,'YTD')>=0"}], "mark": {"type": "bar", "width": {"band": 0.8}}, "encoding": {"y": {"field": "v", "type": "quantitative", "scale": {"domain": [0, 5.035], "nice": false}, "axis": null}, "y2": {"datum": 0},
          "fill": {"condition": {"test": "datum.cat==='2Q23 YTD'", "value": {"gradient": "linear", "x1": 0, "y1": 0, "x2": 0, "y2": 1, "stops": [{"offset": 0, "color": "#03497a"}, {"offset": 0.1333, "color": "#03497a"}, {"offset": 0.1333, "color": "rgba(3,73,122,0)"}, {"offset": 0.3333, "color": "rgba(3,73,122,0)"}, {"offset": 0.3333, "color": "#03497a"}, {"offset": 0.4667, "color": "#03497a"}, {"offset": 0.4667, "color": "rgba(3,73,122,0)"}, {"offset": 0.6667, "color": "rgba(3,73,122,0)"}, {"offset": 0.6667, "color": "#03497a"}, {"offset": 0.8, "color": "#03497a"}, {"offset": 0.8, "color": "rgba(3,73,122,0)"}, {"offset": 1, "color": "rgba(3,73,122,0)"}]}},
            "value": {"gradient": "linear", "x1": 0, "y1": 0, "x2": 0, "y2": 1, "stops": [{"offset": 0, "color": "#03497a"}, {"offset": 0.4, "color": "#03497a"}, {"offset": 0.4, "color": "rgba(3,73,122,0)"}, {"offset": 1, "color": "rgba(3,73,122,0)"}]}}}},
        {"mark": {"type": "text", "baseline": "alphabetic", "dy": -7, "font": "Lato", "fontSize": 14.5, "color": "#262626"}, "encoding": {"y": {"field": "v", "type": "quantitative", "scale": {"domain": [0, 5.035], "nice": false}, "axis": null}, "text": {"field": "label"}}},
        {"transform": [{"filter": "datum.cat==='2Q23 YTD'"}], "mark": {"type": "rule", "color": "#f0b323", "strokeDash": [8, 5], "strokeWidth": 2}, "encoding": {"x": {"field": "cat", "type": "nominal", "sort": null, "bandPosition": 0}, "y": {"datum": 3.19, "type": "quantitative", "scale": {"domain": [0, 5.035], "nice": false}}, "y2": {"datum": 0}}}
      ]
    },
    {
      "width": 432, "height": 1,
      "title": {"text": "▨ FIRST FOUNDATION", "subtitle": "Copyright © 2023 First Foundation Inc. All Rights Reserved", "anchor": "start", "dx": -13, "dy": 102, "font": "Liberation Serif", "fontSize": 18, "fontWeight": "bold", "color": "#1b4a7a", "subtitleFont": "Lato", "subtitleFontSize": 8.7, "subtitleColor": "#a6a6a6", "subtitlePadding": 9},
      "data": {"values": [{}]},
      "mark": {"type": "point", "opacity": 0}
    },
    {
      "width": 432, "height": 1,
      "title": {"text": "1)\u2003\u2003\u2002Non-GAAP measure. See \"Non-GAAP Financial Measures\"", "anchor": "start", "dx": -187, "dy": 81, "font": "Lato", "fontSize": 9.7, "fontWeight": "normal", "color": "#a6a6a6"},
      "data": {"values": [{}]},
      "mark": {"type": "point", "opacity": 0}
    }
  ]
}
